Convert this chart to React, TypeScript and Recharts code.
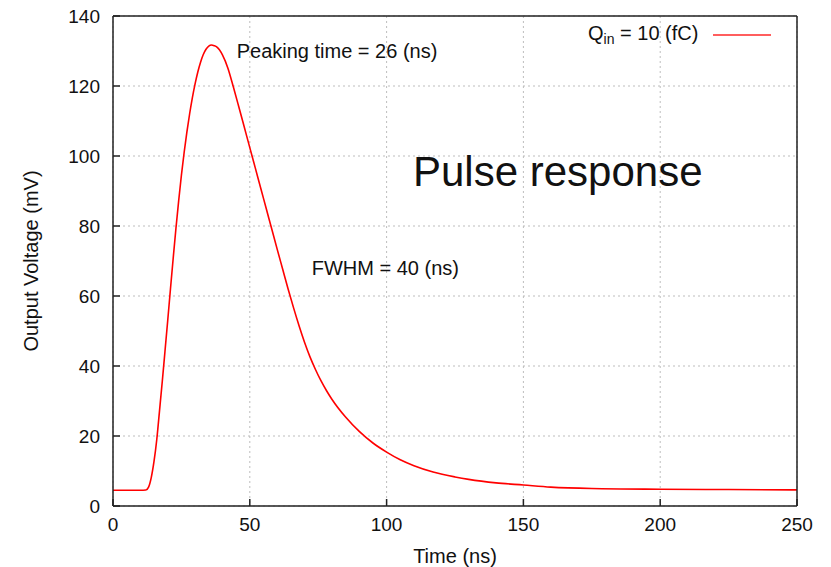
import React from "react";
import {
  CartesianGrid,
  Legend,
  Line,
  LineChart,
  XAxis,
  YAxis,
} from "recharts";

const timeNs = [
  0, 5, 10, 12, 13, 14, 15, 16, 17, 18, 19, 20, 21, 22, 23, 24, 25, 26, 27, 28,
  29, 30, 31, 32, 33, 34, 35, 36, 37, 38, 40, 42, 44, 46, 48, 50, 52, 54, 56,
  58, 60, 62, 64, 66, 68, 70, 72, 74, 76, 78, 80, 85, 90, 95, 100, 105, 110,
  117, 125, 130, 140, 150, 160, 175, 200, 225, 250,
];

const outputMv = [
  4.5, 4.5, 4.5, 4.55, 5.4, 8.2, 12.8, 19, 27.2, 35.5, 44.2, 53, 62, 70.8, 79.3,
  87.2, 94.5, 101, 106.8, 112, 116.6, 120.6, 124, 126.8, 129, 130.5, 131.4,
  131.7, 131.5, 131.1, 128.9, 125.1, 119.7, 114, 108.2, 102.4, 96.6, 90.8, 85,
  79.2, 73.4, 67.7, 62, 56.6, 51.5, 46.8, 42.6, 39, 35.8, 33, 30.5, 25.4, 21.3,
  18, 15.4, 13.2, 11.5, 9.7, 8.3, 7.6, 6.6, 6.0, 5.4, 5.0, 4.8, 4.7, 4.6,
];

const xTicks = [0, 50, 100, 150, 200, 250];
const yTicks = [0, 20, 40, 60, 80, 100, 120, 140];

const data = timeNs.map((t, i) => ({ t, v: outputMv[i] }));

const FONT = "'Liberation Sans', Arial, Helvetica, sans-serif";
const AXIS = "#222";

const LegendBox = () => (
  <div
    style={{
      display: "flex",
      alignItems: "center",
      fontFamily: FONT,
      fontSize: 20,
      color: "#111",
      whiteSpace: "nowrap",
      lineHeight: 1,
    }}
  >
    <span>
      Q<sub style={{ fontSize: 14, verticalAlign: -4 }}>in</sub> = 10 (fC)
    </span>
    <svg width={62} height={10} style={{ marginLeft: 15 }}>
      <line x1={0} y1={5} x2={58} y2={5} stroke="#ff2828" strokeWidth={1.6} />
    </svg>
  </div>
);

const note = (left: number, top: number, size: number): React.CSSProperties => ({
  position: "absolute",
  left,
  top,
  fontFamily: FONT,
  fontSize: size,
  lineHeight: 1,
  color: "#111",
  whiteSpace: "nowrap",
});

export default function App() {
  return (
    <div
      style={{
        position: "absolute",
        left: 0,
        top: 0,
        width: 831,
        height: 567,
        background: "#fff",
        overflow: "hidden",
      }}
    >
      <LineChart
        width={831}
        height={567}
        data={data}
        margin={{ top: 15, right: 33, bottom: 0, left: 0 }}
      >
        <CartesianGrid
          stroke="#bdbdbd"
          strokeDasharray="2 3"
          horizontalValues={yTicks}
          verticalValues={xTicks}
        />
        <XAxis
          dataKey="t"
          type="number"
          domain={[0, 250]}
          ticks={xTicks}
          height={61}
          tickSize={-7}
          tickMargin={19}
          stroke={AXIS}
          strokeWidth={1.5}
          tick={{ fill: "#111", fontSize: 19, fontFamily: FONT }}
          label={{
            value: "Time (ns)",
            position: "insideBottom",
            offset: 4,
            style: { fill: "#111", fontSize: 20, fontFamily: FONT },
          }}
        />
        <XAxis
          xAxisId="top"
          orientation="top"
          dataKey="t"
          type="number"
          domain={[0, 250]}
          ticks={xTicks}
          height={1}
          tickSize={-7}
          tick={false}
          stroke={AXIS}
          strokeWidth={1.5}
        />
        <YAxis
          type="number"
          domain={[0, 140]}
          ticks={yTicks}
          width={113}
          tickSize={-7}
          tickMargin={20}
          stroke={AXIS}
          strokeWidth={1.5}
          tick={{ fill: "#111", fontSize: 19, fontFamily: FONT }}
          label={{
            value: "Output Voltage (mV)",
            angle: -90,
            position: "insideLeft",
            offset: 31,
            style: {
              fill: "#111",
              fontSize: 20,
              fontFamily: FONT,
              textAnchor: "middle",
            },
          }}
        />
        <YAxis
          yAxisId="right"
          orientation="right"
          type="number"
          domain={[0, 140]}
          ticks={yTicks}
          width={1}
          tickSize={-7}
          tick={false}
          stroke={AXIS}
          strokeWidth={1.5}
        />
        <Legend
          layout="vertical"
          align="center"
          verticalAlign="middle"
          content={() => <LegendBox />}
          wrapperStyle={{ left: 588, top: 23, width: 200, height: 22 }}
        />
        <Line
          dataKey="v"
          name="Qin = 10 (fC)"
          type="monotone"
          stroke="#ff0000"
          strokeWidth={1.6}
          dot={false}
          isAnimationActive={false}
        />
      </LineChart>
      <div style={note(236.7, 41.4, 20)}>Peaking time = 26 (ns)</div>
      <div style={note(311.7, 258, 20)}>FWHM = 40 (ns)</div>
      <div style={note(413, 151, 42)}>Pulse response</div>
    </div>
  );
}
